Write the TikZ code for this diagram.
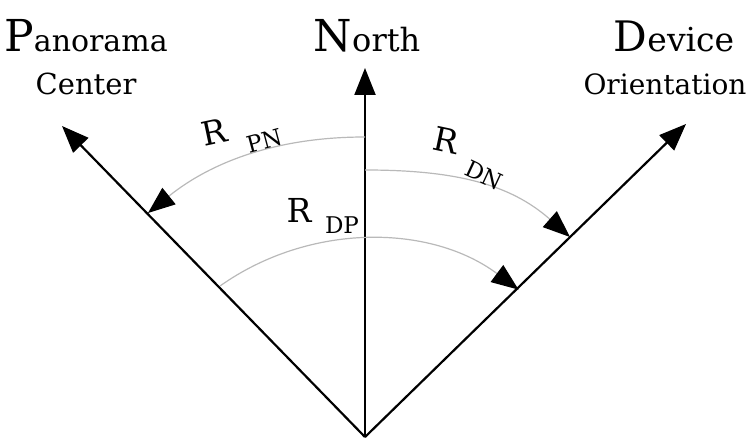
\documentclass[tikz,border=0pt]{standalone}
\usepackage{fontspec}
\setmainfont{DejaVu Serif}
\usetikzlibrary{arrows.meta}
\newcommand{\fs}[1]{\fontsize{#1}{#1}\selectfont}
\begin{document}
\begin{tikzpicture}[x=1pt,y=-1pt,
  axis/.style={line width=2.2pt,-{Triangle[length=27pt,width=21pt]}},
  angarc/.style={line width=1.2pt,draw=gray!55,-{Triangle[length=27pt,width=21pt,color=black,fill=black]}},
  lbl/.style={inner sep=0pt,outer sep=0pt,font=\rmfamily},
]
\useasboundingbox (0,0) rectangle (747,438);
% main axes
\coordinate (O) at (365,437);
\coordinate (Ntip) at (365,68);
\coordinate (Ptip) at (62,126);
\coordinate (Dtip) at (686,124);
\draw[axis] (O) -- (Ntip);
\draw[axis] (O) -- (Ptip);
\draw[axis] (O) -- (Dtip);
% arc points
\coordinate (pnS) at (365,137);
\coordinate (pnE) at (148,213);
\coordinate (dnS) at (365,170);
\coordinate (dnE) at (570,237);
\coordinate (dpS) at (220,286);
% arcs
\draw[angarc] (pnS) .. controls (275,137) and (210,163) .. (pnE);
\draw[angarc] (dnS) .. controls (455,170) and (510,184) .. (dnE);
\draw[angarc] (dpS) arc[start angle=-125.3, end angle=-53.3, radius=254];
% headers
\node[lbl,anchor=base] (pan) at (86,52) {\fs{44}P\fs{30}anorama};
\node[lbl,anchor=base] (cen) at (86,95) {\fs{29}Center};
\node[lbl,anchor=base] (nor) at (367,52) {\fs{44}N\fs{32}orth};
\node[lbl,anchor=base] (dev) at (674,52) {\fs{42}D\fs{33}evice};
\node[lbl,anchor=base] (ori) at (665,95) {\fs{28}Orientation};
% angle labels
\node[lbl,rotate=12] (rpn) at (214,132) {\fs{33}R};
\node[lbl,rotate=15] (pn) at (265,141) {\fs{23}PN};
\node[lbl,rotate=-12] (rdn) at (446,140) {\fs{33}R};
\node[lbl,rotate=-25] (dn) at (484,175) {\fs{23}DN};
\node[lbl] (rdp) at (299,210) {\fs{33}R};
\node[lbl] (dp) at (342,225) {\fs{23}DP};
\end{tikzpicture}
\end{document}
